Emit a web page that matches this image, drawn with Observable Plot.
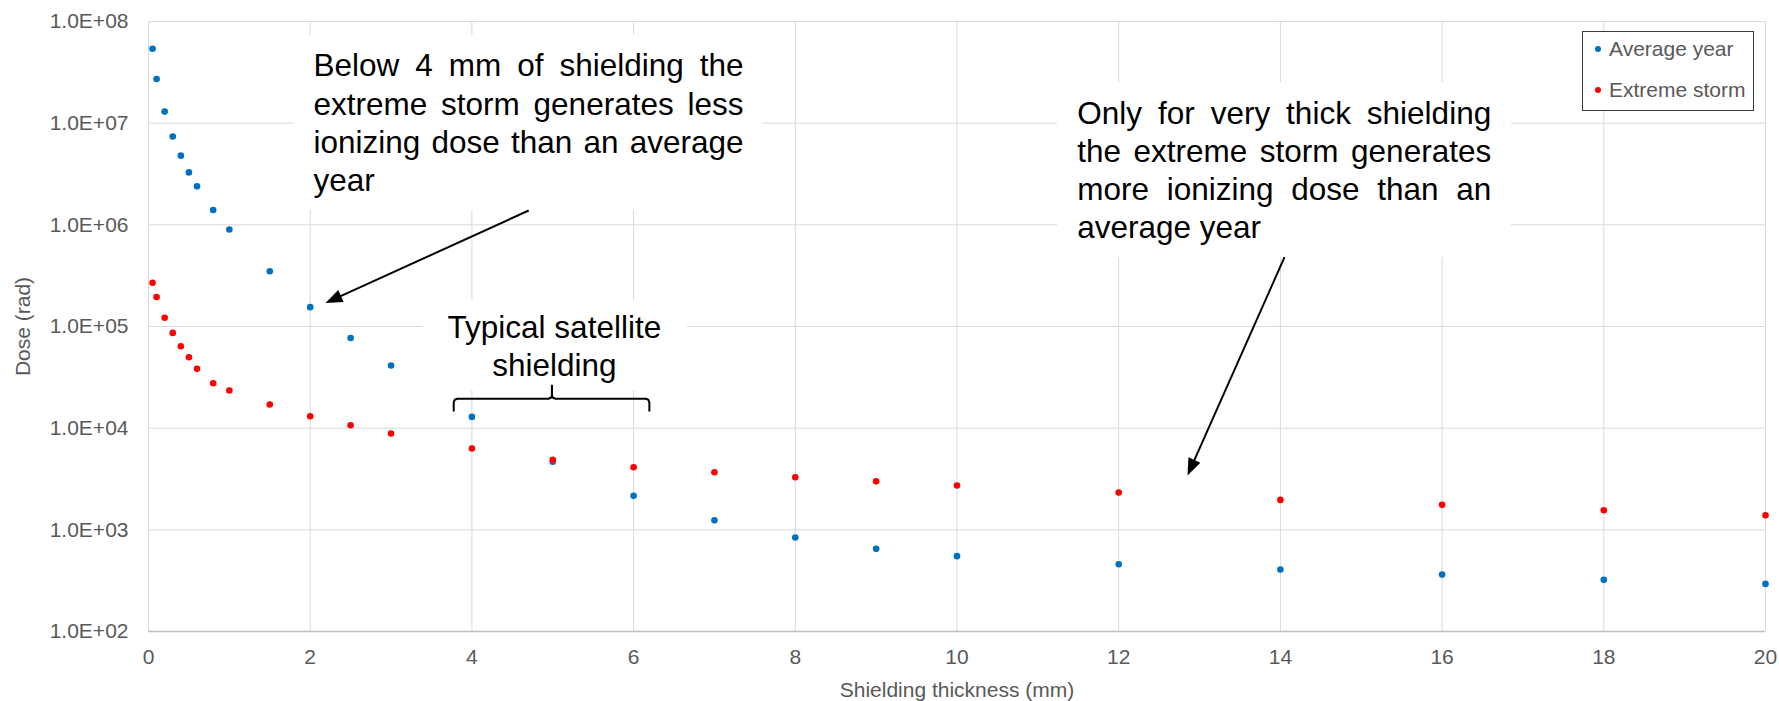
<!DOCTYPE html>
<html>
<head>
<meta charset="utf-8">
<script src="https://cdn.jsdelivr.net/npm/d3@7"></script>
<script src="https://cdn.jsdelivr.net/npm/@observablehq/plot@0.6"></script>
<style>
  body { margin: 0; background: #fff; }
  #chart { position: relative; width: 1779px; height: 701px; font-family: "Liberation Sans", Arial, sans-serif; }
  #legend { position: absolute; left: 1582px; top: 31px; width: 172px; height: 80px; box-sizing: border-box;
            border: 1px solid #3a3a3a; background: #fff; }
  #legend .row { position: absolute; left: 0; height: 24px; line-height: 24px; font-size: 21px; color: #595959; white-space: nowrap; }
  #legend .sw { position: absolute; left: 12px; top: 9px; width: 6px; height: 6px; border-radius: 50%; }
  #legend .lab { position: absolute; left: 26px; top: 0; }
</style>
</head>
<body>
<div id="chart"></div>
<script>
// ---------------- data ----------------
const thickness    = [0.05, 0.1, 0.2, 0.3, 0.4, 0.5, 0.6, 0.8, 1, 1.5, 2, 2.5, 3, 4, 5, 6, 7, 8, 9, 10, 12, 14, 16, 18, 20];
const averageYear  = [5.4e7, 2.72e7, 1.30e7, 7.4e6, 4.79e6, 3.28e6, 2.39e6, 1.40e6, 9.0e5, 3.49e5, 1.55e5, 7.7e4, 4.13e4,
                      1.29e4, 4670, 2160, 1240, 840, 650, 551, 459, 407, 363, 322, 294];
const extremeStorm = [2.69e5, 1.95e5, 1.22e5, 8.65e4, 6.4e4, 4.99e4, 3.83e4, 2.77e4, 2.35e4, 1.71e4, 1.31e4, 1.07e4, 8860,
                      6300, 4880, 4130, 3690, 3290, 3000, 2730, 2330, 1970, 1760, 1560, 1390];
const seriesNames  = ["Average year", "Extreme storm"];
const seriesColors = ["#0070C0", "#FF0000"];
const xTicks       = [0, 2, 4, 6, 8, 10, 12, 14, 16, 18, 20];
const yTicks       = [1e2, 1e3, 1e4, 1e5, 1e6, 1e7, 1e8];
const yTickLabels  = ["1.0E+02", "1.0E+03", "1.0E+04", "1.0E+05", "1.0E+06", "1.0E+07", "1.0E+08"];
const xLabel       = "Shielding thickness (mm)";
const yLabel       = "Dose (rad)";

// annotations (anchors in data units: mm, rad)
const note1Lines = ["Below 4 mm of shielding the", "extreme storm generates less", "ionizing dose than an average", "year"];
const note1 = {x1: 2.041, x2: 7.359, y: 2.88e7};
const note2Lines = ["Only for very thick shielding", "the extreme storm generates", "more ionizing dose than an", "average year"];
const note2 = {x1: 11.487, x2: 16.607, y: 9.86e6};
const note3Lines = ["Typical satellite", "shielding"];
const note3 = {x: 5.02, y: 7.74e4};
const noteBoxes = [
  {x1: 1.793, x2: 7.607, y1: 1.383e6, y2: 7.28e7},
  {x1: 11.243, x2: 16.858, y1: 4.77e5, y2: 2.51e7},
  {x1: 3.401, x2: 6.667, y1: 2.345e4, y2: 1.80e5}
];
const arrows = [
  {x1: 4.703, y1: 1.383e6, x2: 2.189, y2: 1.70e5},
  {x1: 14.051, y1: 4.81e5, x2: 12.851, y2: 3.42e3}
];
const brace = {x1: 3.775, x2: 6.195, xMid: 4.99, y: 1.945e4};

// ---------------- layout ----------------
const W = 1779, H = 701;
const M = {top: 21, right: 14, bottom: 70, left: 148};
const NOTE_FONT = 31.5, NOTE_LINE = 38.2;
const FONT = '"Liberation Sans", Arial, sans-serif';

const xs = Plot.scale({x: {domain: [0, 20], range: [M.left, W - M.right]}});
const ys = Plot.scale({y: {type: "log", domain: [1e2, 1e8], range: [H - M.bottom, M.top]}});
const toData = (X, Y) => ({x: xs.invert(X), y: ys.invert(Y)});

const ctx = document.createElement("canvas").getContext("2d");
ctx.font = `${NOTE_FONT}px "Liberation Sans"`;

function justify(lines, n) {
  const L = xs.apply(n.x1), R = xs.apply(n.x2), B = ys.apply(n.y);
  const space = ctx.measureText(" ").width;
  const out = [];
  lines.forEach((line, li) => {
    const words = line.split(" ");
    const widths = words.map(w => ctx.measureText(w).width);
    const last = li === lines.length - 1;
    const gap = (!last && words.length > 1) ? (R - L - d3.sum(widths)) / (words.length - 1) : space;
    let X = L;
    words.forEach((w, k) => {
      out.push({text: w, ...toData(X, B + li * NOTE_LINE)});
      X += widths[k] + gap;
    });
  });
  return out;
}
const noteWords = [...justify(note1Lines, note1), ...justify(note2Lines, note2)];
const note3Items = note3Lines.map((t, i) => ({text: t, x: note3.x, y: toData(0, ys.apply(note3.y) + i * NOTE_LINE).y}));

// arrows: shaft + filled head
const HEAD_L = 17, HEAD_W = 13;
const headSymbol = {draw(c) { c.moveTo(0, 0); c.lineTo(-HEAD_W / 2, HEAD_L); c.lineTo(HEAD_W / 2, HEAD_L); c.closePath(); }};
const shafts = [], heads = [];
for (const a of arrows) {
  const X1 = xs.apply(a.x1), Y1 = ys.apply(a.y1), X2 = xs.apply(a.x2), Y2 = ys.apply(a.y2);
  const len = Math.hypot(X2 - X1, Y2 - Y1), ux = (X2 - X1) / len, uy = (Y2 - Y1) / len;
  const e = toData(X2 - ux * 10, Y2 - uy * 10);
  shafts.push({x1: a.x1, y1: a.y1, x2: e.x, y2: e.y});
  heads.push({x: a.x2, y: a.y2, angle: Math.atan2(ux, -uy) * 180 / Math.PI});
}

// brace
const braceLine = (() => {
  const L = xs.apply(brace.x1), R = xs.apply(brace.x2), C = xs.apply(brace.xMid), Y = ys.apply(brace.y);
  const leg = 12, tip = 13, r = 3.5, k = 1.0;
  const left = [[L, Y + leg], [L, Y + r], [L + k, Y + k], [L + r, Y], [C - r, Y], [C - k, Y - k], [C, Y - r], [C, Y - tip]];
  const right = [[C, Y - tip], [C, Y - r], [C + k, Y - k], [C + r, Y], [R - r, Y], [R - k, Y + k], [R, Y + r], [R, Y + leg]];
  return [...left.map(p => ({...toData(...p), side: "l"})), ...right.map(p => ({...toData(...p), side: "r"}))];
})();

// tidy points
const points = thickness.flatMap((t, i) => [
  {t, dose: averageYear[i], series: seriesNames[0]},
  {t, dose: extremeStorm[i], series: seriesNames[1]}
]);

const chart = Plot.plot({
  width: W, height: H,
  marginTop: M.top, marginRight: M.right, marginBottom: M.bottom, marginLeft: M.left,
  style: {fontFamily: FONT, fontSize: "21px", color: "#595959", background: "#fff", overflow: "visible"},
  x: {domain: [0, 20], nice: false},
  y: {type: "log", domain: [1e2, 1e8], nice: false},
  color: {domain: seriesNames, range: seriesColors},
  marks: [
    Plot.gridX({ticks: xTicks, stroke: "#d9d9d9", strokeOpacity: 1, strokeWidth: 1}),
    Plot.gridY({ticks: yTicks, stroke: "#d9d9d9", strokeOpacity: 1, strokeWidth: 1}),
    Plot.ruleY([1e2], {stroke: "#bfbfbf", strokeWidth: 1.3}),
    Plot.rect(noteBoxes, {x1: "x1", x2: "x2", y1: "y1", y2: "y2", fill: "#fff"}),
    Plot.axisX({ticks: xTicks, tickSize: 0, tickPadding: 18, label: null, fontSize: 21, fill: "#595959"}),
    Plot.axisY({ticks: yTicks, tickSize: 0, tickPadding: 20, label: null, fontSize: 21, fill: "#595959",
                tickFormat: d => yTickLabels[yTicks.indexOf(d)]}),
    Plot.text([xLabel], {text: d => d, frameAnchor: "bottom", dy: 65, lineAnchor: "bottom", fontSize: 21, fill: "#595959"}),
    Plot.text([yLabel], {text: d => d, frameAnchor: "left", dx: -133, rotate: -90, lineAnchor: "top", textAnchor: "middle", fontSize: 21, fill: "#595959"}),
    Plot.dot(points, {x: "t", y: "dose", fill: "series", r: 3.3, stroke: null}),
    Plot.text(noteWords, {x: "x", y: "y", text: "text", textAnchor: "start", lineAnchor: "bottom", fontSize: NOTE_FONT, fill: "#000"}),
    Plot.text(note3Items, {x: "x", y: "y", text: "text", textAnchor: "middle", lineAnchor: "bottom", fontSize: NOTE_FONT, fill: "#000"}),
    Plot.line(braceLine, {x: "x", y: "y", z: "side", stroke: "#000", strokeWidth: 2, curve: "linear"}),
    Plot.link(shafts, {x1: "x1", y1: "y1", x2: "x2", y2: "y2", stroke: "#000", strokeWidth: 2}),
    Plot.dot(heads, {x: "x", y: "y", rotate: "angle", symbol: headSymbol, fill: "#000", stroke: null, r: 5})
  ]
});

const host = document.getElementById("chart");
host.appendChild(chart);

// legend (inside the plot area, top right)
const legend = document.createElement("div");
legend.id = "legend";
seriesNames.forEach((name, i) => {
  const row = document.createElement("div");
  row.className = "row";
  row.style.top = (5 + i * 40.5) + "px";
  const sw = document.createElement("span");
  sw.className = "sw";
  sw.style.background = seriesColors[i];
  const lab = document.createElement("span");
  lab.className = "lab";
  lab.textContent = name;
  row.appendChild(sw); row.appendChild(lab);
  legend.appendChild(row);
});
host.appendChild(legend);
</script>
</body>
</html>
